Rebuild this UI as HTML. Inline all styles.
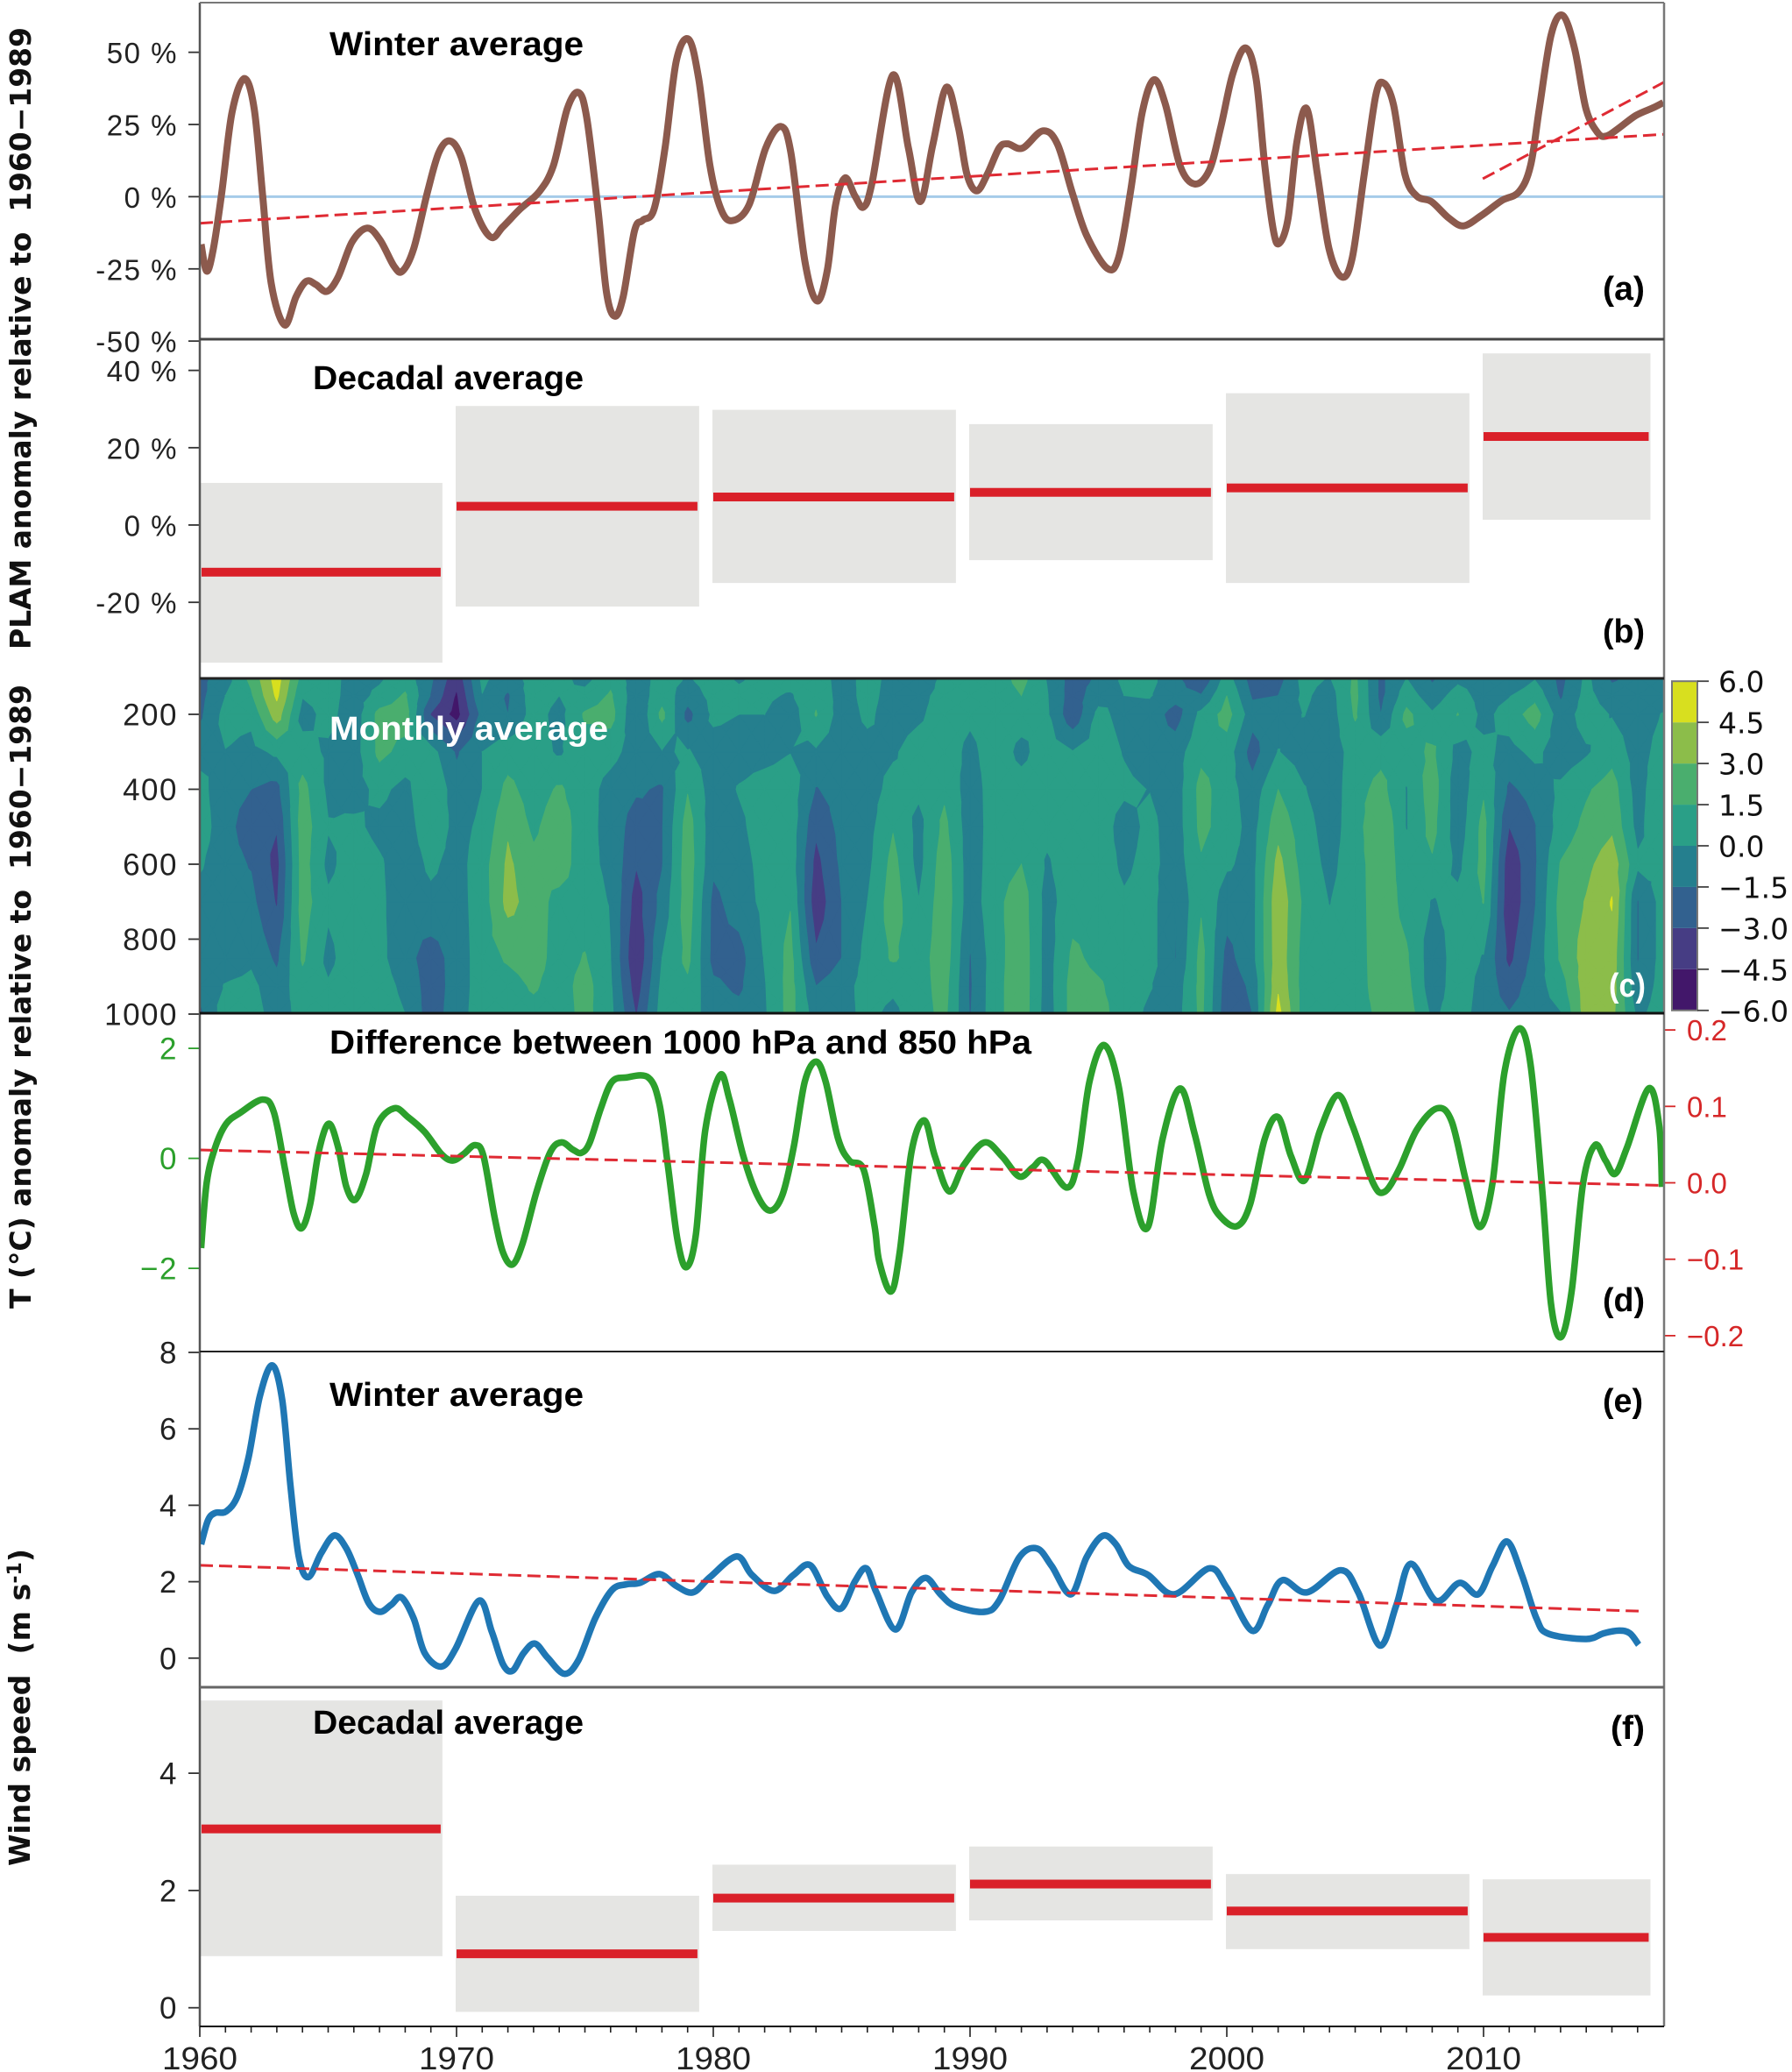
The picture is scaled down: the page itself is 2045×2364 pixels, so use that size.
<!DOCTYPE html>
<html lang="en">
<head>
<meta charset="utf-8">
<title>PLAM, temperature and wind speed anomalies 1960-2017</title>
<style>
html,body{margin:0;padding:0;background:#fff;}
svg{display:block;font-family:"Liberation Sans",sans-serif;}
.panel-title{font-weight:bold;font-size:38px;fill:#000;}
.tick{font-size:34px;fill:#222;}
.ytitle{font-family:"DejaVu Sans",sans-serif;font-weight:bold;font-size:33px;fill:#111;}
.panel-label{font-weight:bold;font-size:38px;fill:#000;}
</style>
</head>
<body>
<svg id="chart" width="2045" height="2364" viewBox="0 0 2045 2364" xmlns="http://www.w3.org/2000/svg">
  <defs>
    <clipPath id="clip-a"><rect x="228" y="3" width="1671" height="384"/></clipPath>
    <clipPath id="clip-c"><rect x="228" y="774" width="1671" height="382"/></clipPath>
    <clipPath id="clip-d"><rect x="228" y="1156" width="1671" height="386"/></clipPath>
    <clipPath id="clip-e"><rect x="228" y="1542" width="1671" height="383"/></clipPath>
  </defs>
  <rect width="2045" height="2364" fill="#fff"/>
  <g id="layer-b"></g>
  <g id="layer-f"></g>
  <g id="layer-c" clip-path="url(#clip-c)"></g>
  <g id="layer-a" clip-path="url(#clip-a)"></g>
  <g id="layer-d" clip-path="url(#clip-d)"></g>
  <g id="layer-e" clip-path="url(#clip-e)"></g>
  <g id="layer-colorbar"></g>
  <g id="layer-axes"></g>

  <g fill="none">
    <line x1="228" y1="3" x2="228" y2="2312" stroke="#555" stroke-width="2.5"/>
    <line x1="1899" y1="3" x2="1899" y2="2312" stroke="#777" stroke-width="2.5"/>
    <line x1="228" y1="3" x2="1899" y2="3" stroke="#777" stroke-width="2"/>
    <line x1="228" y1="387" x2="1899" y2="387" stroke="#444" stroke-width="3"/>
    <line x1="228" y1="774" x2="1899" y2="774" stroke="#222" stroke-width="3"/>
    <line x1="228" y1="1156" x2="1899" y2="1156" stroke="#111" stroke-width="3"/>
    <line x1="228" y1="1542" x2="1899" y2="1542" stroke="#222" stroke-width="2"/>
    <line x1="228" y1="1925" x2="1899" y2="1925" stroke="#666" stroke-width="3"/>
    <line x1="228" y1="2312" x2="1899" y2="2312" stroke="#111" stroke-width="2"/>
  </g>

  <text class="panel-title" x="376" y="63" textLength="290" lengthAdjust="spacingAndGlyphs">Winter average</text>
  <text class="panel-title" x="357" y="444" textLength="309" lengthAdjust="spacingAndGlyphs">Decadal average</text>
  <text class="panel-title" x="376" y="844" textLength="318" lengthAdjust="spacingAndGlyphs" style="fill:#fff">Monthly average</text>
  <text class="panel-title" x="376" y="1202" textLength="801" lengthAdjust="spacingAndGlyphs">Difference between 1000 hPa and 850 hPa</text>
  <text class="panel-title" x="376" y="1604" textLength="290" lengthAdjust="spacingAndGlyphs">Winter average</text>
  <text class="panel-title" x="357" y="1978" textLength="309" lengthAdjust="spacingAndGlyphs">Decadal average</text>

  <text class="panel-label" x="1829" y="342" textLength="48" lengthAdjust="spacingAndGlyphs">(a)</text>
  <text class="panel-label" x="1829" y="733" textLength="48" lengthAdjust="spacingAndGlyphs">(b)</text>
  <text class="panel-label" x="1836" y="1137" textLength="42" lengthAdjust="spacingAndGlyphs" style="fill:#fff">(c)</text>
  <text class="panel-label" x="1829" y="1496" textLength="48" lengthAdjust="spacingAndGlyphs">(d)</text>
  <text class="panel-label" x="1829" y="1611" textLength="46" lengthAdjust="spacingAndGlyphs">(e)</text>
  <text class="panel-label" x="1838" y="1984" textLength="39" lengthAdjust="spacingAndGlyphs">(f)</text>

  <text class="ytitle" transform="translate(35,741) rotate(-90)" textLength="710" xml:space="preserve">PLAM anomaly relative to  1960−1989</text>
  <text class="ytitle" transform="translate(35,1493) rotate(-90)" textLength="712" xml:space="preserve">T (°C) anomaly relative to  1960−1989</text>
  <text class="ytitle" transform="translate(34,2129) rotate(-90)" textLength="362" xml:space="preserve">Wind speed  (m s<tspan dy="-10" font-size="22">-1</tspan><tspan dy="10">)</tspan></text>
</svg>

<script>
/* ---------- x axis ---------- */
const xTickYears = [1960,1970,1980,1990,2000,2010];
const minorTickFirst = 1960;
const minorTickLast = 2016;

/* ---------- panel a: winter PLAM anomaly (%) ---------- */
const plamYearOffset = [0.05,0.27,0.53,0.86,1.25,1.73,2.12,2.45,2.78,3.3,3.75,4.15,4.52,4.95,5.39,5.93,6.52,7.02,7.56,7.89,8.33,8.87,9.31,9.74,10.18,10.72,11.33,11.81,12.46,13.22,13.77,14.31,14.75,15.07,15.51,15.84,16.16,16.49,16.93,17.25,17.69,18.12,18.56,19.04,19.43,19.87,20.3,20.74,21.39,22.04,22.63,23.02,23.57,24.04,24.44,24.76,25.13,25.52,25.85,26.18,26.99,27.6,28.06,28.55,29.08,29.54,29.88,30.26,30.67,31.13,31.47,32.04,32.83,33.4,33.97,34.54,35.34,35.79,36.25,36.7,37.16,37.61,38.18,38.75,39.32,39.77,40.23,40.73,41.14,41.48,41.82,42.05,42.39,42.73,43.12,43.53,43.98,44.48,44.89,45.35,45.8,46.1,46.49,46.94,47.4,47.97,48.65,49.22,49.9,50.7,51.38,51.83,52.17,52.63,53.08,53.54,53.99,54.45,54.79,55.25,55.93,56.61,57];
const plamWinter = [-16.5,-25.8,-18,1.7,28.9,40.9,30.4,0.2,-30,-44.4,-34.6,-29.3,-30.4,-32.8,-27.8,-15.7,-10.9,-15,-24,-25.8,-18,1.7,15.3,19.3,13.7,-4.4,-14,-10.4,-4.4,1.7,10.7,30.4,36.1,27.3,-4.4,-33.1,-41.4,-34.6,-11.9,-8.2,-4.4,16.8,47,54.5,40.9,10.7,-4.4,-8.3,-2.9,16.8,24.3,15.3,-22.5,-36.1,-25.5,-2.9,6.5,0.2,-3.6,4.7,42.1,16.8,-1.7,18,37.9,24.3,7.7,2,7.7,16.8,18.3,16.8,22.8,18.3,1.7,-13.4,-24.8,-21,1.7,28.9,40.5,31.9,10.7,4.4,9.2,24.3,42.4,51.5,40.9,10.7,-11.9,-16.1,-7.4,19,30.4,7.7,-18,-27.8,-21,7.7,34.9,39.4,31.9,7.7,0.2,-1.7,-7.4,-10.1,-6.6,-1.4,1.7,10.7,30.4,56,62.8,51.5,30.4,22.1,21,23.6,28.1,30.8,32.6];
const plamTrendYears = [1960,2017.04];
const plamTrendValues = [-9.2,21.6];
const plamRecentTrendYears = [2009.97,2017.04];
const plamRecentTrendValues = [6.2,39.7];
const plamTicks = [50,25,0,-25,-50];

/* ---------- panel b: decadal PLAM (%) ---------- */
const decadeStart = [1960,1970,1980,1990,2000,2010];
const decadeEnd = [1969.45,1979.45,1989.45,1999.45,2009.45,2016.5];
const plamDecadeMean = [-12.2,4.85,7.25,8.45,9.6,22.9];
const plamDecadeHigh = [10.9,30.8,29.8,26.1,34.1,44.4];
const plamDecadeLow = [-35.6,-21.1,-15,-9.1,-15,1.36];
const plamDecadeTicks = [40,20,0,-20];

/* ---------- panel c: temperature anomaly by pressure and year ---------- */
const pressureLevels = [100,150,200,300,400,500,600,700,850,925,1000];
const pressureTicks = [200,400,600,800,1000];
const contourLevels = [-6,-4.5,-3,-1.5,0,1.5,3,4.5,6];
const contourColors = ['#42176a','#463d84','#32618f','#257f8e','#2a9f87','#4aae6e','#8cbd4a','#d8df1f'];
const colorbarLabels = ['6.0','4.5','3.0','1.5','0.0','−1.5','−3.0','−4.5','−6.0'];
const anomalyByYear = [
[-2.0,-2.0,-1.8,-0.5,0.5,0.8,0.2,-0.6,-0.8,-1.0,-1.8],
[-0.7,0,0.5,-0.05,-1,-1,-1,-1,-0.9,0.1,0.8],
[1.9,1.3,0.4,-0.5,-1.5,-2.3,-1.6,-1.1,-0.3,0.4,0.7],
[5.3,4.8,3.8,0.3,-2,-2.9,-3.5,-3.15,-1.8,-1,-0.7],
[0.9,0.1,-0.6,0.7,2,2.3,2.2,2.2,1.7,1,0.5],
[0.6,0.6,0.5,-0.3,-0.3,0.1,-0.4,0.3,-0.4,0.15,0.7],
[-0.6,-0.7,-0.9,-0.7,-0.6,0.3,0.8,0.9,0.9,0.9,0.9],
[-0.3,0.4,2,1.9,0.4,-0.4,0.2,0.3,0.4,0.7,0.9],
[0.7,1.7,2.2,1,-0.5,-0.8,-0.9,-0.9,-1,-0.4,0],
[-1.2,-1.6,-3.1,0.6,1.5,1.1,0.3,-0.4,-2.2,-2.3,-2.3],
[-4,-4.7,-5.1,-1.7,-0.9,-0.5,-0.6,-0.6,-0.9,-0.9,-0.7],
[0.4,-0.05,-1,0,0,0.3,0.8,0.7,0.8,0.8,0.8],
[-0.7,-1.7,-1.5,0.8,1.9,2.8,3.3,3.5,1.7,0.9,0.8],
[0.6,0.8,0.6,0.6,0.8,1.2,1.9,2.3,2.2,1.7,1],
[0.5,0,-0.5,-0.2,1.7,2.4,2.4,0.9,0.8,0.8,0.7],
[-0.6,0.5,1.7,0.9,0.7,0.5,0.4,0.7,1.6,2.1,2],
[1,1.7,2.1,0.5,-0.6,-0.5,-0.3,-0.1,0.02,0.2,0.4],
[-0.8,-1,-1.5,-0.7,-1.3,-2.3,-2.9,-3.7,-4.4,-3.8,-3.1],
[0.6,0.9,1.9,-0.1,-1.7,-1.6,-1.6,-1,0,0.4,0.7],
[-0.1,-0.9,-2,0.1,1.4,2.2,2.4,2.3,1.9,1.2,0.8],
[0.7,0.5,0.3,-0.6,-0.8,-1,-1.2,-1.9,-2,-1.2,-0.8],
[-0.2,0.3,0,-0.6,0.1,-0.3,-0.6,-0.8,-2.1,-1.8,-1],
[0.6,0.3,0,-0.5,0.6,0.7,0.5,0.4,0.1,-0.1,-0.2],
[0.8,-0.2,-0.9,-0.05,0.8,0.9,0.9,1.4,2,2.1,2.1],
[1,1.2,1.6,-0.2,-1.6,-2.7,-3.5,-4,-2.7,-1.5,-0.8],
[-0.8,-0.7,-0.8,-0.8,-0.9,-1,-1.2,-1.5,-1.5,-0.7,-0.5],
[0.6,0.5,0.3,-0.5,-0.7,-0.6,-0.4,0,0.5,0.7,0.4],
[-0.5,-0.6,-0.7,-0.2,0.5,1.4,2,2.3,1.7,0.3,-0.4],
[-1.6,-0.6,-0.3,0.7,0.3,-0.5,-0.5,0.05,0.8,0.9,0.9],
[0.5,0.7,0.8,0.8,1.2,1.9,2.4,2.5,2.4,2.1,1.9],
[0.9,0.8,0.3,-0.4,-0.8,-0.9,-0.9,-0.9,-1.6,-1.7,-1.6],
[0.8,0.8,0.8,0.8,0.8,0.8,0.9,1.1,0.9,1,1],
[2,1.5,0.6,-0.4,0.6,0.8,1.5,2.3,2.5,2.5,2.5],
[-0.1,0.1,0.2,0.8,0.8,0.4,-0.2,-0.6,-0.7,-0.7,-0.8],
[-2.2,-2.3,-2.6,0.05,0.8,0.9,0.9,0.9,1.8,2.1,2.1],
[-1.3,-0.6,0.4,0.8,0.8,0.9,0.8,0.9,1.1,1.7,2.1],
[0.3,0,-0.5,-0.1,0.3,-0.7,-0.3,0.2,0.8,0.8,0.7],
[0.5,0.1,-0.6,-0.7,-0.05,0.4,0.5,0.6,0.6,0.1,-0.3],
[-1.2,-0.9,-2.2,-0.7,-0.8,-0.8,-0.8,-1.5,-1.55,-0.9,-0.7],
[-3,-1.4,0.4,1.1,2,1.9,1.3,1.3,2,2,1.9],
[0.6,1.5,2.1,0.8,0.7,0.8,0.2,-0.8,-2,-2.4,-2.6],
[-2.3,-1.7,-0.9,-2.2,-0.9,-0.6,-0.5,-0.5,-0.5,-1.2,-1.5],
[-2.1,-1.5,-0.6,0.05,1.5,2.5,3.5,4.1,4,4.3,5],
[0.5,0.3,0.05,-0.7,0.1,0.6,0.8,1.2,0.9,0.8,0.8],
[-0.05,-0.7,-0.8,-0.8,-0.9,-0.7,-0.4,-0.05,0.6,0.7,0.7],
[1.8,1.9,1.7,0.6,0.9,0.8,0.8,0.8,0.7,0.7,0.7],
[-1.9,-1.9,-1.5,1,2,3,2.5,2.4,2.4,2.3,1.9],
[-0.05,0.8,1.9,0.8,-0.1,-0.1,0.7,1,1.7,2,2.4],
[-1.8,-0.9,0.2,1.8,2.3,2,1.3,-0.1,-0.9,-0.9,-0.3],
[-0.5,0.7,1.55,-0.5,-1,-0.9,-0.4,0.4,0.7,0.8,0.7],
[-0.8,-0.7,-0.5,0.4,1.3,2,2,1.55,-0.1,-0.5,-0.7],
[-1.6,-0.1,0.7,-0.5,-1.8,-3,-4.1,-4.2,-3.4,-2.3,-1.4],
[-0.2,1,2.2,0.4,-0.9,-1.6,-1.7,-1.6,-1,-0.7,-0.7],
[-2,-1.7,-0.9,-0.9,0.3,0.6,1.6,2,1.7,0.8,-0.1],
[0.3,0.5,0.7,-0.2,1.3,1.9,2.6,3.1,3.7,3.8,3.7],
[-1.8,-0.9,-0.1,0.9,2.2,2.7,3.9,4.6,4,3.8,3.5],
[-0.9,-0.8,-0.8,-0.7,-0.7,-0.5,0.3,-1.6,-1.6,-1.2,-0.4],
[-1.3,-0.9,0.1,0.7,1.4,1.4,0.5,0.6,0.6,0.7,0.8]
];

/* ---------- panel d: 1000-850 hPa temperature difference ---------- */
const diffYearOffset = [0.05,0.27,0.6,1.03,1.58,2.45,2.89,3.32,3.65,3.97,4.3,4.63,5.02,5.39,5.71,6.06,6.48,6.91,7.57,8.11,8.76,9.41,9.85,10.28,10.72,11.05,11.48,11.81,12.18,12.57,13.12,13.66,14.09,14.53,14.86,15.18,15.62,16.05,16.6,17.47,17.9,18.23,18.6,18.95,19.32,19.69,20.26,20.63,21.17,21.71,22.21,22.69,23.13,23.56,24,24.38,24.86,25.3,25.85,26.28,26.46,26.92,27.26,27.72,28.22,28.63,29.19,29.76,30.56,31.24,31.92,32.45,32.9,33.77,34.2,34.65,35.22,35.79,36.36,36.93,37.5,38.18,38.75,39.32,39.77,40.41,40.91,41.48,42,42.5,43.03,43.64,44.32,44.89,45.69,46.14,46.71,47.4,48.19,48.76,49.33,49.85,50.35,50.81,51.38,51.83,52.29,52.63,53.02,53.43,53.88,54.34,54.75,55.13,55.59,56.43,56.84,56.95];
const diffValues = [-1.63,-0.44,0.2,0.63,0.83,1.07,0.83,-0.2,-0.99,-1.27,-0.83,0.12,0.63,0.2,-0.52,-0.75,-0.28,0.6,0.91,0.75,0.48,0.08,-0.04,0.08,0.24,0.04,-1.07,-1.71,-1.93,-1.55,-0.6,0.12,0.29,0.16,0.1,0.28,0.91,1.39,1.47,1.47,0.99,-0.12,-1.47,-1.98,-1.39,0.52,1.51,1.07,0.04,-0.67,-0.95,-0.67,0.2,1.39,1.76,1.39,0.36,-0.04,-0.2,-1.23,-1.87,-2.42,-1.71,0.12,0.69,0.04,-0.6,-0.12,0.29,0.04,-0.33,-0.16,-0.04,-0.53,-0.04,1.39,2.06,1.31,-0.6,-1.25,0.36,1.27,0.44,-0.67,-1.07,-1.23,-0.83,0.36,0.75,0.04,-0.4,0.52,1.15,0.6,-0.44,-0.61,-0.2,0.52,0.91,0.67,-0.44,-1.25,-0.44,1.55,2.36,1.71,-0.6,-2.66,-3.25,-2.42,-0.44,0.24,-0.04,-0.28,0.2,1.27,0.6,-0.52];
const diffTrendYears = [1960,2017];
const diffTrendValues = [0.043,-0.0034];
const diffLeftTicks = [2,0,-2];
const diffRightTicks = [0.2,0.1,0,-0.1,-0.2];

/* ---------- panel e: winter wind speed (m/s) ---------- */
const windYearOffset = [0.05,0.32,0.6,1.03,1.47,1.9,2.34,2.82,3.21,3.54,3.86,4.23,4.73,5.24,5.71,6.15,6.58,7.02,7.46,7.85,8.33,8.76,9.41,9.96,10.87,11.37,11.81,12.18,12.61,13.05,13.55,14.2,14.75,15.4,16.05,16.6,17.14,17.9,18.56,19.21,19.87,20.91,21.5,22.37,23.13,23.78,24.44,24.98,25.52,25.96,26.35,27.1,27.72,28.28,28.85,29.42,30.56,31.13,31.92,32.61,33.18,33.93,34.54,35.16,35.68,36.18,36.93,37.95,39.32,40,40.98,41.59,42.16,43.12,44.44,45.12,45.96,46.6,47.17,48.15,49.06,49.79,50.35,50.92,51.49,52.06,52.52,54,54.68,55.29,55.7,56.04];
const windValues = [2.98,3.61,3.8,3.84,4.24,5.26,6.86,7.66,6.75,4.46,2.64,2.12,2.75,3.21,2.87,2.18,1.44,1.21,1.4,1.59,1.04,0.13,-0.22,0.24,1.5,0.7,-0.16,-0.33,0.13,0.38,0.01,-0.41,-0.05,1.04,1.78,1.93,1.97,2.2,1.89,1.72,2.12,2.66,2.18,1.76,2.18,2.43,1.61,1.3,2.01,2.35,1.72,0.75,1.72,2.1,1.67,1.36,1.21,1.5,2.64,2.87,2.41,1.67,2.64,3.2,2.98,2.41,2.18,1.67,2.35,1.84,0.72,1.38,2.04,1.72,2.3,1.72,0.33,1.38,2.47,1.5,1.97,1.67,2.41,3.05,2.18,1.04,0.64,0.5,0.65,0.72,0.65,0.35];
const windTrendYears = [1960,2016.04];
const windTrendValues = [2.43,1.23];
const windTicks = [8,6,4,2,0];

/* ---------- panel f: decadal wind speed (m/s) ---------- */
const windDecadeMean = [3.05,0.92,1.87,2.11,1.65,1.2];
const windDecadeHigh = [5.24,1.91,2.44,2.75,2.28,2.19];
const windDecadeLow = [0.88,-0.07,1.31,1.49,1.0,0.21];
const windDecadeTicks = [4,2,0];

/* ---------- axis functions ---------- */
const xS = y => 228 + (y - 1960) * 29.3;
const yA = v => 224.4 - v * 3.295;
const yB = v => 599 - v * 4.41;
const yC = p => 1157 - (1000 - p) * 0.4275;
const yDL = v => 1321.6 - v * 62.75;
const yDR = v => 1349.5 - v * 872;
const yE = v => 1891.8 - v * 43.6;
const yF = v => 2290.7 - v * 66.9;
const yBar = v => 965 - v * 31.3;

const NS = 'http://www.w3.org/2000/svg';
function mk(tag, parent, attrs, name) {
  const el = document.createElementNS(NS, tag);
  for (const k in attrs) el.setAttribute(k, attrs[k]);
  
  
  parent.appendChild(el);
  return el;
}
function label(parent, x, y, str, size, fill, anchor, name, family) {
  const t = mk('text', parent, {x: x, y: y, 'font-size': size, fill: fill, 'text-anchor': anchor}, name);
  if (family) t.setAttribute('font-family', family);
  t.textContent = str;
  return t;
}
function smoothPath(xs, ys) {
  let d = 'M' + xs[0].toFixed(1) + ' ' + ys[0].toFixed(1);
  for (let i = 0; i < xs.length - 1; i++) {
    const i0 = Math.max(0, i - 1), i3 = Math.min(xs.length - 1, i + 2);
    const c1x = xs[i] + (xs[i + 1] - xs[i0]) / 6, c1y = ys[i] + (ys[i + 1] - ys[i0]) / 6;
    const c2x = xs[i + 1] - (xs[i3] - xs[i]) / 6, c2y = ys[i + 1] - (ys[i3] - ys[i]) / 6;
    d += 'C' + c1x.toFixed(1) + ' ' + c1y.toFixed(1) + ' ' + c2x.toFixed(1) + ' ' + c2y.toFixed(1) + ' ' + xs[i + 1].toFixed(1) + ' ' + ys[i + 1].toFixed(1);
  }
  return d;
}
function drawCurve(parent, offsets, values, yFn, color, width, name) {
  const xs = offsets.map(o => xS(1960 + o));
  const ys = values.map(yFn);
  mk('path', parent, {d: smoothPath(xs, ys), fill: 'none', stroke: color, 'stroke-width': width, 'stroke-linejoin': 'round'}, name);
}
function drawTrend(parent, years, values, yFn, name) {
  mk('line', parent, {x1: xS(years[0]), y1: yFn(values[0]), x2: xS(years[1]), y2: yFn(values[1]), stroke: '#df2a33', 'stroke-width': 3, 'stroke-dasharray': '15 7'}, name);
}
function drawDecades(parent, high, low, mean, yFn, prefix) {
  decadeStart.forEach((s, i) => {
    const x0 = Math.max(xS(s) - 1, 229), x1 = xS(decadeEnd[i]);
    mk('rect', parent, {x: x0, y: yFn(high[i]), width: x1 - x0, height: yFn(low[i]) - yFn(high[i]), fill: '#e5e5e3'}, prefix + '-range-' + s);
    mk('rect', parent, {x: x0 + 1, y: yFn(mean[i]) - 5, width: x1 - x0 - 3, height: 10, fill: '#da2029'}, prefix + '-mean-' + s);
  });
}
function yTicks(parent, ticks, yFn, fmt, prefix, size, color) {
  ticks.forEach(v => {
    mk('line', parent, {x1: 215, y1: yFn(v), x2: 228, y2: yFn(v), stroke: color, 'stroke-width': 1.8}, prefix + '-tick-' + v);
    const t = label(parent, 203, yFn(v) + 12.5, fmt(v), size, color === '#333' ? '#222' : color, 'end', prefix + '-tick-label-' + v);
    t.setAttribute('letter-spacing', '1.5');
  });
}

/* ---------- panels ---------- */
const layerA = document.getElementById('layer-a');
const layerB = document.getElementById('layer-b');
const layerC = document.getElementById('layer-c');
const layerD = document.getElementById('layer-d');
const layerE = document.getElementById('layer-e');
const layerF = document.getElementById('layer-f');
const layerBar = document.getElementById('layer-colorbar');
const layerAxes = document.getElementById('layer-axes');

mk('line', layerA, {x1: 228, y1: yA(0), x2: 1899, y2: yA(0), stroke: '#a5cbe9', 'stroke-width': 3}, 'zero-reference-line');
drawCurve(layerA, plamYearOffset, plamWinter, yA, '#8c5a4d', 8, 'plam-winter-line');
drawTrend(layerA, plamTrendYears, plamTrendValues, yA, 'plam-long-term-trend');
drawTrend(layerA, plamRecentTrendYears, plamRecentTrendValues, yA, 'plam-recent-trend');

drawDecades(layerB, plamDecadeHigh, plamDecadeLow, plamDecadeMean, yB, 'plam-decade');
drawDecades(layerF, windDecadeHigh, windDecadeLow, windDecadeMean, yF, 'wind-decade');

drawCurve(layerD, diffYearOffset, diffValues, yDL, '#2ca02c', 7.5, 'temperature-difference-line');
drawTrend(layerD, diffTrendYears, diffTrendValues, yDR, 'temperature-difference-trend');

drawCurve(layerE, windYearOffset, windValues, yE, '#1f77b4', 7.5, 'wind-speed-line');
drawTrend(layerE, windTrendYears, windTrendValues, yE, 'wind-speed-trend');

/* ---------- filled contours from the year/pressure grid ---------- */
function clipPoly(poly, level, keepAbove) {
  const out = [];
  for (let i = 0; i < poly.length; i++) {
    const a = poly[i], b = poly[(i + 1) % poly.length];
    const ina = keepAbove ? a.v >= level : a.v <= level;
    const inb = keepAbove ? b.v >= level : b.v <= level;
    if (ina) out.push(a);
    if (ina !== inb) {
      const t = (level - a.v) / (b.v - a.v);
      out.push({x: a.x + t * (b.x - a.x), y: a.y + t * (b.y - a.y), v: level});
    }
  }
  return out;
}
contourColors.forEach((color, band) => {
  const lo = contourLevels[band], hi = contourLevels[band + 1];
  let d = '';
  for (let c = 0; c < anomalyByYear.length - 1; c++) {
    for (let r = 0; r < pressureLevels.length - 1; r++) {
      const x0 = xS(1960 + c), x1 = xS(1961 + c);
      const y0 = yC(pressureLevels[r]), y1 = yC(pressureLevels[r + 1]);
      const corners = [
        {x: x0, y: y0, v: anomalyByYear[c][r]},
        {x: x1, y: y0, v: anomalyByYear[c + 1][r]},
        {x: x1, y: y1, v: anomalyByYear[c + 1][r + 1]},
        {x: x0, y: y1, v: anomalyByYear[c][r + 1]}
      ];
      const centre = {
        x: (x0 + x1) / 2,
        y: (y0 + y1) / 2,
        v: (corners[0].v + corners[1].v + corners[2].v + corners[3].v) / 4
      };
      for (let t = 0; t < 4; t++) {
        let poly = [corners[t], corners[(t + 1) % 4], centre];
        poly = clipPoly(poly, lo, true);
        if (poly.length) poly = clipPoly(poly, hi, false);
        if (poly.length > 2) {
          d += 'M' + poly.map(p => p.x.toFixed(1) + ' ' + p.y.toFixed(1)).join('L') + 'Z';
        }
      }
    }
  }
  mk('path', layerC, {d: d, fill: color, stroke: color, 'stroke-width': 0.8}, 'contour-band-' + band);
});

/* ---------- colour bar ---------- */
contourColors.forEach((color, band) => {
  const top = yBar(contourLevels[band + 1]), bottom = yBar(contourLevels[band]);
  mk('rect', layerBar, {x: 1908, y: top, width: 29, height: bottom - top, fill: color}, 'colorbar-band-' + band);
});
mk('rect', layerBar, {x: 1908, y: yBar(6), width: 29, height: yBar(-6) - yBar(6), fill: 'none', stroke: '#777', 'stroke-width': 2}, 'colorbar-outline');
colorbarLabels.forEach((text, i) => {
  const v = contourLevels[contourLevels.length - 1 - i];
  mk('line', layerBar, {x1: 1937, y1: yBar(v), x2: 1950, y2: yBar(v), stroke: '#444', 'stroke-width': 1.8}, 'colorbar-tick-' + i);
  label(layerBar, 1961, yBar(v) + 12.5, text, 33, '#111', 'start', 'colorbar-label-' + i, '"DejaVu Sans", sans-serif');
});

/* ---------- axes ---------- */
yTicks(layerAxes, plamTicks, yA, v => v + ' %', 'plam-winter', 33, '#333');
yTicks(layerAxes, plamDecadeTicks, yB, v => v + ' %', 'plam-decade', 33, '#333');
yTicks(layerAxes, pressureTicks, yC, v => String(v), 'pressure', 35, '#333');
yTicks(layerAxes, diffLeftTicks, yDL, v => (v < 0 ? '−' + (-v) : String(v)), 'temperature-diff', 35, '#2ca02c');
yTicks(layerAxes, windTicks, yE, v => String(v), 'wind-winter', 35, '#333');
yTicks(layerAxes, windDecadeTicks, yF, v => String(v), 'wind-decade', 35, '#333');

diffRightTicks.forEach(v => {
  mk('line', layerAxes, {x1: 1899, y1: yDR(v), x2: 1912, y2: yDR(v), stroke: '#d62728', 'stroke-width': 1.8}, 'trend-axis-tick-' + v);
  const str = v < 0 ? '−' + (-v).toFixed(1) : v.toFixed(1);
  label(layerAxes, 1925, yDR(v) + 12, str, 33, '#d62728', 'start', 'trend-axis-label-' + v);
});

for (let y = minorTickFirst; y <= minorTickLast; y++) {
  const major = xTickYears.includes(y);
  mk('line', layerAxes, {x1: xS(y), y1: 2312, x2: xS(y), y2: major ? 2324 : 2319, stroke: '#222', 'stroke-width': 1.6}, 'x-tick-' + y);
}
xTickYears.forEach(y => {
  const t = label(layerAxes, xS(y), 2361, String(y), 36, '#222', 'middle', 'x-tick-label-' + y);
  t.setAttribute('textLength', '86');
  t.setAttribute('lengthAdjust', 'spacingAndGlyphs');
});
</script>
</body>
</html>
